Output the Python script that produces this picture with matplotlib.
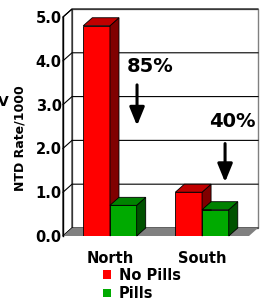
import matplotlib
matplotlib.use('Agg')
import matplotlib.pyplot as plt
from matplotlib.patches import Polygon, Patch

regions = ['North', 'South']
no_pills = [4.8, 1.0]
pills = [0.7, 0.6]
series_labels = ['No Pills', 'Pills']
reductions = ['85%', '40%']
y_ticks = [0, 1, 2, 3, 4, 5]

plt.rcParams['font.family'] = 'DejaVu Sans'
plt.rcParams['font.weight'] = 'bold'

W, H = 261, 301
fig = plt.figure(figsize=(W / 100, H / 100), dpi=100)
ax = fig.add_axes([63 / W, 65 / H, 186 / W, 219 / H])
ax.set_xlim(-0.51, 1.51)
ax.set_ylim(0, 5)
for s in ax.spines.values():
    s.set_visible(False)

# fake 3d depth (data units)
dx, dy = 0.098, 0.183
x0, x1 = ax.get_xlim()
ymax = y_ticks[-1]

back = Polygon([(x0 + dx, dy), (x1 + dx, dy), (x1 + dx, ymax + dy), (x0 + dx, ymax + dy)],
               closed=True, fc='white', ec='#808080', lw=1, clip_on=False, zorder=0)
ax.add_patch(back)
left = Polygon([(x0, 0), (x0 + dx, dy), (x0 + dx, ymax + dy), (x0, ymax)],
               closed=True, fc='white', ec='black', lw=0.8, clip_on=False, zorder=1)
ax.add_patch(left)
for t in y_ticks:
    ax.plot([x0, x0 + dx, x1 + dx], [t, t + dy, t + dy], color='black', lw=0.8,
            clip_on=False, zorder=1.5)
floor = Polygon([(x0, 0), (x1, 0), (x1 + dx, dy), (x0 + dx, dy)],
                closed=True, fc='#808080', ec='none', clip_on=False, zorder=2)
ax.add_patch(floor)
ax.plot([x0, x0], [0, ymax], color='black', lw=1, clip_on=False, zorder=2)


def bar3d(x, h, w, front, side, top, z):
    ax.bar(x, h, w, color=front, edgecolor='black', lw=0.6, zorder=z)
    r = x + w / 2
    l = x - w / 2
    ax.add_patch(Polygon([(r, 0), (r + dx, dy), (r + dx, h + dy), (r, h)], closed=True,
                         fc=side, ec='black', lw=0.6, zorder=z, clip_on=False))
    ax.add_patch(Polygon([(l, h), (r, h), (r + dx, h + dy), (l + dx, h + dy)], closed=True,
                         fc=top, ec='black', lw=0.6, zorder=z, clip_on=False))


bw = 0.29
z = 3
for i in range(len(regions)):
    bar3d(i - bw / 2, no_pills[i], bw, '#FF0000', '#800000', '#C00000', z)
    bar3d(i + bw / 2, pills[i], bw, '#00AA00', '#005200', '#008200', z + 1)
    z += 2

ax.set_yticks(y_ticks)
ax.set_yticklabels([f'{t:.1f}' for t in y_ticks], fontsize=10.5, fontweight='bold')
ax.set_xticks(range(len(regions)))
ax.set_xticklabels(regions, fontsize=10.5, fontweight='bold')
ax.tick_params(axis='y', length=0, pad=1)
ax.tick_params(axis='x', length=0, pad=11)

fig.text(20 / W, 1 - 138 / H, 'NTD Rate/1000', rotation=90, ha='center', va='center',
         fontsize=9, fontweight='bold')
fig.text(9 / W, 1 - 102 / H, 'V', ha='right', va='center', fontsize=10, fontweight='bold')

# reduction arrows
ax.text(0.436, 3.88, reductions[0], ha='center', va='center', fontsize=14, fontweight='bold')
ax.text(1.327, 2.61, reductions[1], ha='center', va='center', fontsize=14, fontweight='bold')
arrow = dict(arrowstyle='-|>,head_width=0.45,head_length=1.1', lw=2.2, color='black',
             mutation_scale=10, shrinkA=0, shrinkB=0)
ax.annotate('', xy=(0.294, 2.52), xytext=(0.294, 3.45), arrowprops=arrow, zorder=10)
ax.annotate('', xy=(1.25, 1.23), xytext=(1.25, 2.11), arrowprops=arrow, zorder=10)

fig.legend(handles=[Patch(fc='#FF0000'), Patch(fc='#00AA00')], labels=series_labels,
           loc='upper left', bbox_to_anchor=(103 / W, 1 - 268 / H), frameon=False,
           fontsize=10.5, handlelength=0.55, handleheight=0.55, handletextpad=0.55,
           labelspacing=0.22, borderpad=0, borderaxespad=0)

fig.savefig('out.png', dpi=100)
